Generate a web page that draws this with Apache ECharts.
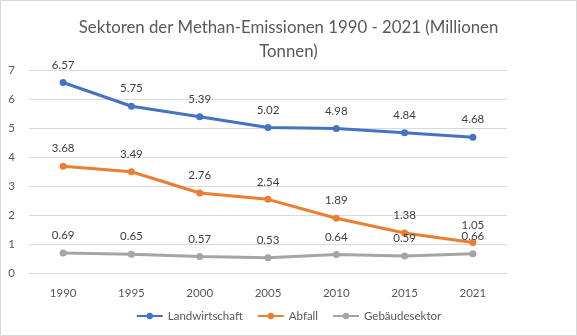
<!DOCTYPE html>
<html><head><meta charset="utf-8">
<script src="https://cdn.jsdelivr.net/npm/echarts@6/dist/echarts.min.js"></script>
<style>html,body{margin:0;padding:0;background:#fff}#c{width:575px;height:334px;border:1px solid #d9d9d9}</style>
</head><body><div id="c"></div>
<script>
const categories = ['1990','1995','2000','2005','2010','2015','2021'];
const landwirtschaft = [6.57,5.75,5.39,5.02,4.98,4.84,4.68];
const abfall = [3.68,3.49,2.76,2.54,1.89,1.38,1.05];
const gebaeude = [0.69,0.65,0.57,0.53,0.64,0.59,0.66];
const yTicks = [0,1,2,3,4,5,6,7];

const chart = echarts.init(document.getElementById('c'));
const font = 'Lato, "Open Sans", sans-serif';
function s(name, data, color){
  return {name, type:'line', data, color,
    symbol:'circle', symbolSize:7,
    lineStyle:{width:3, color}, itemStyle:{color},
    label:{show:true, position:'top', distance:8, color:'#404040', fontSize:11.5, fontFamily:font,
      formatter:p=>p.value.toFixed(2)}};
}
chart.setOption({
  animation:false,
  title:{text:'Sektoren der Methan-Emissionen 1990 - 2021 (Millionen\nTonnen)', left:'center', top:10,
    textStyle:{color:'#595959', fontSize:16.8, fontWeight:'normal', fontFamily:font, lineHeight:24}},
  grid:{left:28, right:69, top:69, bottom:62},
  legend:{bottom:8, left:'center', itemWidth:26, itemHeight:8, itemGap:14,
    textStyle:{color:'#595959', fontSize:11.5, fontFamily:font},
    data:['Landwirtschaft','Abfall','Gebäudesektor']},
  xAxis:{type:'category', data:categories, boundaryGap:true,
    axisLine:{show:true, lineStyle:{color:'#d9d9d9'}}, axisTick:{show:false},
    axisLabel:{color:'#595959', fontSize:11.5, fontFamily:font, margin:14}},
  yAxis:{type:'value', min:yTicks[0], max:yTicks[yTicks.length-1], interval:1,
    axisLine:{show:false}, axisTick:{show:false},
    axisLabel:{color:'#595959', fontSize:11.5, fontFamily:font, margin:14},
    splitLine:{lineStyle:{color:'#d9d9d9'}}},
  series:[s('Landwirtschaft',landwirtschaft,'#4472C4'), s('Abfall',abfall,'#ED7D31'), s('Gebäudesektor',gebaeude,'#A5A5A5')]
});
</script></body></html>
